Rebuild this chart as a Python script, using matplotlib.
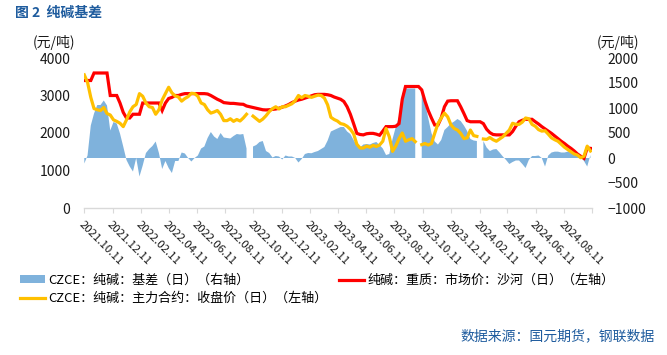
import matplotlib
matplotlib.use("Agg")
import matplotlib.pyplot as plt
from matplotlib.patches import Patch
from matplotlib.lines import Line2D
import numpy as np
import pandas as pd

plt.rcParams['font.family'] = ['Noto Sans CJK SC', 'DejaVu Sans']

nan = np.nan
# weekly observations starting 2021-10-11
start_date = '2021-10-11'
n_weeks = 157

# 纯碱：重质：市场价：沙河（日）（左轴）
spot = [
    3400, 3400, 3400, 3600, 3600, 3600, 3600, 3600, 3000, 3000,
    3000, 2800, 2550, 2400, 2400, 2500, 2500, 2500, 2800, 2800,
    2800, 2800, 2800, 2800, 2600, 2800, 2920, 2950, 3000, 3000,
    3030, 3050, 3050, 3050, 3050, 3050, 3050, 3050, 3040, 3000,
    2950, 2900, 2860, 2810, 2800, 2790, 2790, 2780, 2770, 2765,
    2720, 2700, 2680, 2660, 2640, 2620, 2615, 2620, 2630, 2640,
    2660, 2690, 2720, 2760, 2810, 2850, 2880, 2900, 2930, 2960,
    2990, 3020, 3030, 3030, 3030, 3020, 3000, 2960, 2930, 2900,
    2840, 2700, 2500, 2250, 1990, 1960, 1950, 1980, 1990, 1990,
    1970, 1940, 2050, 2170, 2170, 2170, 2180, 2250, 2900, 3240,
    3240, 3240, 3240, 3240, 3150, 2850, 2600, 2400, 2214, 2214,
    2400, 2700, 2850, 2860, 2860, 2860, 2700, 2520, 2330, 2300,
    2300, 2300, 2300, 2250, 2100, 2010, 1960, 1950, 1950, 1950,
    1950, 1950, 2040, 2180, 2300, 2340, 2365, 2365, 2365, 2300,
    2240, 2170, 2110, 2050, 1990, 1920, 1850, 1780, 1720, 1650,
    1590, 1520, 1440, 1380, 1325, 1600, 1590,
]

# CZCE：纯碱：主力合约：收盘价（日）（左轴）
futures = [
    3550, 3350, 2950, 2650, 2620, 2600, 2680, 2520, 2480, 2350,
    2310, 2260, 2170, 2350, 2560, 2700, 2760, 3050, 2980, 2800,
    2700, 2680, 2500, 2620, 2880, 3050, 3220, 3070, 2990, 2960,
    2850, 2920, 2970, 3060, 3050, 2980, 2800, 2760, 2620, 2530,
    2560, 2600, 2500, 2330, 2330, 2380, 2310, 2360, 2320, 2400,
    2500, nan, 2450, 2380, 2310, 2370, 2460, 2570, 2650, 2700,
    2640, 2700, 2700, 2740, 2780, 2860, 3000, 2940, 3000, 2980,
    2950, 2980, 3010, 3000, 2930, 2750, 2420, 2360, 2320, 2250,
    2230, 2180, 2100, 1980, 1700, 1600, 1600, 1650, 1620, 1670,
    1640, 1680, 1780, 2120, 1900, 1510, 1650, 1850, 2000, 1780,
    1820, 1850, 1770, nan, 1690, 1720, 1680, 1720, 1990, 2250,
    2400, 2530, 2430, 2220, 2120, 2080, 1990, 1850, 1870, 2080,
    1930, 1910, nan, 1840, 1830, 1880, 1820, 1780, 1840, 1900,
    1990, 2080, 2260, 2230, 2230, 2290, 2400, 2380, 2230, 2180,
    2090, 2050, 2060, 1970, 1870, 1820, 1780, 1700, 1620, 1560,
    1500, 1440, 1410, 1340, 1380, 1650, 1520,
]

# CZCE：纯碱：基差（日）（右轴）
basis = [
    -110, 50, 650, 890, 1060, 1060, 1150, 1050, 550, 720,
    690, 490, 230, -40, -170, -270, 0, -370, -150, 100,
    180, 240, 330, 100, -220, -60, -200, -300, -60, -60,
    110, 90, 0, -70, 0, 50, 190, 230, 400, 520,
    430, 380, 500, 410, 400, 390, 440, 480, 470, 480,
    190, nan, 230, 260, 320, 340, 140, 100, 10, 40,
    30, -30, 50, 30, 30, 0, -90, -20, 80, 100,
    95, 120, 140, 180, 220, 350, 530, 560, 590, 620,
    620, 530, 480, 360, 250, 210, 270, 280, 270, 300,
    320, 260, 190, 60, 80, 380, 620, 820, 1290, 1390,
    1390, 1390, 1390, nan, 1330, 1100, 800, 500, 330, 270,
    360, 560, 620, 690, 730, 780, 740, 650, 540, 380,
    350, 340, nan, 340, 210, 140, 170, 180, 110, 30,
    -40, -120, -80, -50, -50, -120, -200, -40, 40, 40,
    50, 0, -170, 50, 110, 127, 127, 110, 110, 127,
    110, 80, 60, 20, -60, -170, 60,
]

tick_start = '2021-10-11'
tick_end = '2024-10-11'
left_ticks = [0, 1000, 2000, 3000, 4000]
right_ticks = [-1000, -500, 0, 500, 1000, 1500, 2000]

legend_labels = ['CZCE：纯碱：基差（日）（右轴）',
                 'CZCE：纯碱：主力合约：收盘价（日）（左轴）',
                 '纯碱：重质：市场价：沙河（日）（左轴）']
title_text = '图 2  纯碱基差'
source_text = '数据来源：国元期货，钢联数据'
unit_text = '(元/吨)'

C_BLUE = '#7FB2DC'
C_RED = '#FF0000'
C_YEL = '#FFC000'
C_TITLE = '#1F5C9E'
C_TEXT = '#1a1a1a'

dates = pd.date_range(start_date, periods=n_weeks, freq='7D')
W, H = 667, 355
fig = plt.figure(figsize=(W / 100, H / 100), dpi=100)
ax = fig.add_axes([84.3 / W, 1 - 208 / H, 508 / W, 150 / H])
ax2 = ax.twinx()

ax2.fill_between(dates, 0, np.array(basis, dtype=float), color=C_BLUE, linewidth=0)
ax.plot(dates, spot, color=C_RED, lw=2.3, solid_joinstyle='miter')
ax.plot(dates, futures, color=C_YEL, lw=2.3)

ax.set_zorder(2)
ax2.set_zorder(1)
ax.patch.set_visible(False)

ax.set_ylim(0, 4000)
ax2.set_ylim(-1000, 2000)
ax.set_yticks(left_ticks)
ax2.set_yticks(right_ticks)
ax.set_xlim(pd.Timestamp(tick_start), pd.Timestamp(tick_end))

xt = pd.date_range(tick_start, tick_end, freq=pd.DateOffset(months=2))
ax.set_xticks(xt)
labels = [d.strftime('%Y.%m.%d') for d in xt]
labels[-1] = ''
ax.set_xticklabels(labels)
for lab in ax.get_xticklabels():
    lab.set_rotation(-45)
    lab.set_ha('left')
    lab.set_va('top')
    lab.set_rotation_mode('anchor')
    lab.set_fontsize(8.2)
    lab.set_color(C_TEXT)

for a in (ax, ax2):
    for s in a.spines.values():
        s.set_visible(False)
ax.spines['bottom'].set_visible(True)
ax.spines['bottom'].set_color('#D9D9D9')
ax.spines['bottom'].set_linewidth(1.0)

ax.tick_params(axis='x', direction='out', length=3.5, width=0.8, color='#D9D9D9', pad=5)
ax.tick_params(axis='y', length=0, pad=10, labelsize=10, labelcolor=C_TEXT)
ax2.tick_params(axis='y', length=0, pad=11, labelsize=10, labelcolor=C_TEXT)
ax2.tick_params(axis='x', length=0)

handles = [Patch(facecolor=C_BLUE, edgecolor='none'),
           Line2D([], [], color=C_YEL, lw=2.3),
           Line2D([], [], color=C_RED, lw=2.3)]
fig.legend(handles, legend_labels, ncol=2, loc='upper left',
           bbox_to_anchor=(20 / W, 1 - 274 / H), frameon=False,
           fontsize=9.4, handlelength=1.9, handletextpad=0.3,
           columnspacing=0.85, labelspacing=0.4, borderpad=0,
           borderaxespad=0, handleheight=0.55)

fig.text(15 / W, 1 - 13 / H, title_text, ha='left', va='center',
         fontsize=10, color=C_TITLE, fontweight='bold')
fig.text(33 / W, 1 - 43 / H, unit_text, ha='left', va='center', fontsize=10, color=C_TEXT)
fig.text(597 / W, 1 - 43 / H, unit_text, ha='left', va='center', fontsize=10, color=C_TEXT)
fig.text(655 / W, 1 - 336 / H, source_text, ha='right', va='center',
         fontsize=10, color=C_TITLE)

fig.savefig('out.png', dpi=100)
